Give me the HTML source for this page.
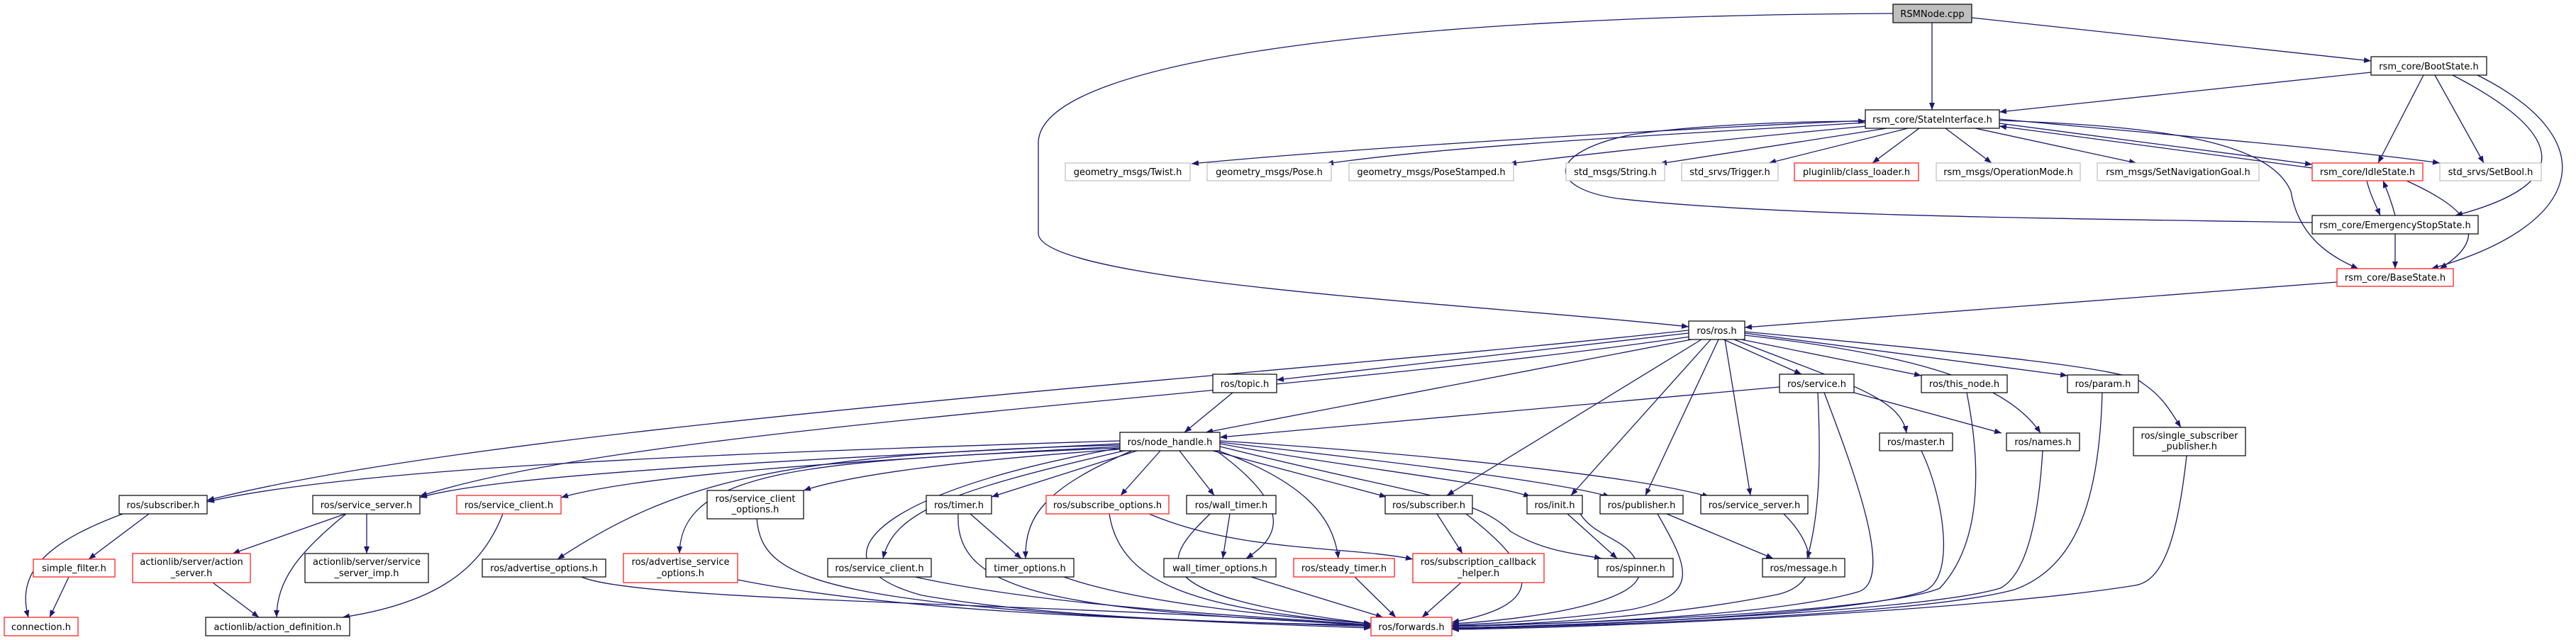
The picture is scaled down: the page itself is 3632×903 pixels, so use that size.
<!DOCTYPE html>
<html><head><meta charset="utf-8"><style>
html,body{margin:0;padding:0;background:#fff;}
svg{display:block;}
text{font-family:"DejaVu Sans","Liberation Sans",sans-serif;font-size:13px;fill:#000;text-anchor:middle;}
.e{fill:none;stroke:#191970;stroke-width:1.3;marker-end:url(#a);}
.b{fill:#fff;stroke:#000;stroke-width:1.2;}
.g{fill:#fff;stroke:#bfbfbf;stroke-width:1.2;}
.r{fill:#fff;stroke:#ff3333;stroke-width:1.4;}
.s{fill:#bfbfbf;stroke:#000;stroke-width:1.2;}
</style></head><body>
<svg width="3632" height="903" viewBox="0 0 3632 903" xmlns="http://www.w3.org/2000/svg">
<defs><marker id="a" markerUnits="userSpaceOnUse" markerWidth="11" markerHeight="8" refX="10" refY="4" orient="auto"><path d="M0,0 L10,4 L0,8 z" fill="#191970"/></marker></defs>
<g>
<path class="e" d="M2669,19 C2000,22 1470,80 1464,200 L1464,330 C1470,400 2100,430 2381,461"/>
<path class="e" d="M2724,32 L2724,155"/>
<path class="e" d="M2780,25 L3343,86"/>
<path class="e" d="M3343,102 L2819,158"/>
<path class="e" d="M3417,106 L3353,230"/>
<path class="e" d="M3433,106 L3502,230"/>
<path class="e" d="M3458,106 C3620,190 3630,260 3462,304"/>
<path class="e" d="M3493,106 C3680,200 3640,320 3428,379"/>
<path class="e" d="M2630,170 C2300,185 1900,210 1680,231"/>
<path class="e" d="M2630,173 C2350,190 2050,205 1870,231"/>
<path class="e" d="M2632,178 C2450,195 2300,210 2128,231"/>
<path class="e" d="M2660,181 L2340,231"/>
<path class="e" d="M2690,181 L2494,230"/>
<path class="e" d="M2706,181 L2640,230"/>
<path class="e" d="M2743,181 L2808,230"/>
<path class="e" d="M2785,181 L3012,230"/>
<path class="e" d="M2819,174 L3260,232"/>
<path class="e" d="M3260,237 L2819,178"/>
<path class="e" d="M2819,168 C3000,185 3300,210 3440,230"/>
<path class="e" d="M2819,170 C3050,178 3200,200 3230,270 C3240,330 3280,360 3325,379"/>
<path class="e" d="M3260,314 C2900,308 2500,305 2280,280 C2180,265 2180,215 2300,190 C2400,175 2550,171 2630,171"/>
<path class="e" d="M3337,255 C3342,275 3350,290 3356,304"/>
<path class="e" d="M3377,304 C3372,285 3366,270 3360,255"/>
<path class="e" d="M3393,255 C3470,290 3520,330 3440,379"/>
<path class="e" d="M3377,330 L3377,379"/>
<path class="e" d="M3295,398 L2460,462"/>
<path class="e" d="M2381,470 L1800,536"/>
<path class="e" d="M2385,479 L1700,610"/>
<path class="e" d="M2381,466 C1800,530 700,600 292,706"/>
<path class="e" d="M2383,475 C1800,560 900,600 592,700"/>
<path class="e" d="M2430,479 L2540,528"/>
<path class="e" d="M2399,479 L2040,699"/>
<path class="e" d="M2412,479 L2215,699"/>
<path class="e" d="M2423,479 L2320,699"/>
<path class="e" d="M2432,479 L2468,699"/>
<path class="e" d="M2445,479 C2600,540 2680,560 2688,611"/>
<path class="e" d="M2455,479 L2709,530"/>
<path class="e" d="M2460,473 C2700,500 2830,540 2877,611"/>
<path class="e" d="M2460,470 L2915,530"/>
<path class="e" d="M2460,468 C2800,500 3000,520 3020,540 C3050,560 3060,580 3075,603"/>
<path class="e" d="M2509,546 L1720,617"/>
<path class="e" d="M2614,554 L2822,611"/>
<path class="e" d="M2563,554 C2567,640 2567,720 2548,788"/>
<path class="e" d="M2572,554 C2620,680 2670,820 2620,835 C2500,870 2200,880 2047,884"/>
<path class="e" d="M1738,554 L1670,610"/>
<path class="e" d="M2709,636 C2740,700 2760,820 2710,835 C2600,870 2200,883 2047,886"/>
<path class="e" d="M2773,554 C2790,640 2800,760 2735,830 C2650,865 2200,880 2047,884"/>
<path class="e" d="M2880,636 C2875,720 2860,810 2820,830 C2700,865 2200,883 2047,886"/>
<path class="e" d="M2964,554 C2960,700 2930,800 2840,832 C2700,870 2200,884 2047,887"/>
<path class="e" d="M3083,643 C3070,760 3050,820 3010,826 C2800,860 2300,885 2047,888"/>
<path class="e" d="M2515,725 C2570,780 2560,830 2500,840 C2350,870 2150,882 2047,883"/>
<path class="e" d="M2350,725 L2500,788"/>
<path class="e" d="M2337,725 C2380,800 2400,840 2300,860 C2200,875 2100,880 2047,882"/>
<path class="e" d="M2210,725 L2280,788"/>
<path class="e" d="M2228,725 C2250,760 2300,760 2310,800 C2330,850 2150,875 2047,880"/>
<path class="e" d="M2026,725 L2062,781"/>
<path class="e" d="M2067,725 C2150,790 2200,850 2047,878"/>
<path class="e" d="M1620,725 C1750,780 1900,770 1992,789"/>
<path class="e" d="M1564,725 C1580,830 1700,860 1933,880"/>
<path class="e" d="M1734,725 L1724,788"/>
<path class="e" d="M1706,725 C1640,790 1600,840 1933,880"/>
<path class="e" d="M1764,814 L1950,871"/>
<path class="e" d="M1910,814 L1968,871"/>
<path class="e" d="M2060,822 L2005,871"/>
<path class="e" d="M1368,725 L1440,788"/>
<path class="e" d="M1351,725 C1345,840 1500,860 1933,882"/>
<path class="e" d="M1500,814 C1600,850 1800,870 1933,880"/>
<path class="e" d="M1290,814 C1500,860 1800,870 1933,882"/>
<path class="e" d="M820,814 C900,850 1500,850 1933,883"/>
<path class="e" d="M1040,818 C1300,870 1700,875 1933,884"/>
<path class="e" d="M1067,732 C1075,820 1150,860 1933,886"/>
<path class="e" d="M1579,622 C1000,640 500,660 292,708"/>
<path class="e" d="M1579,626 C1100,650 700,670 592,702"/>
<path class="e" d="M1579,630 C1200,650 900,670 791,702"/>
<path class="e" d="M1579,634 C1350,650 1200,670 1133,692"/>
<path class="e" d="M1579,628 C1100,640 950,680 786,789"/>
<path class="e" d="M1579,632 C1150,650 960,660 958,781"/>
<path class="e" d="M1585,636 C1350,690 1260,720 1245,788"/>
<path class="e" d="M1603,636 L1398,701"/>
<path class="e" d="M1596,636 C1470,690 1445,730 1446,788"/>
<path class="e" d="M1636,636 L1580,699"/>
<path class="e" d="M1663,636 L1712,699"/>
<path class="e" d="M1715,636 C1830,720 1800,760 1757,788"/>
<path class="e" d="M1718,636 C1840,680 1880,730 1887,788"/>
<path class="e" d="M1710,636 L1955,701"/>
<path class="e" d="M1720,626 C1900,660 2100,680 2158,701"/>
<path class="e" d="M1720,624 C1950,650 2200,680 2270,701"/>
<path class="e" d="M1720,622 C2000,640 2300,670 2410,701"/>
<path class="e" d="M1720,630 C2000,700 2080,700 2130,750 C2180,780 2230,782 2258,788"/>
<path class="e" d="M1579,632 C1200,700 1150,800 1300,840 C1500,875 1800,880 1933,882"/>
<path class="e" d="M210,725 L125,789"/>
<path class="e" d="M173,725 C80,760 20,800 40,871"/>
<path class="e" d="M97,814 L70,871"/>
<path class="e" d="M487,725 L328,781"/>
<path class="e" d="M488,725 C420,780 390,820 390,871"/>
<path class="e" d="M517,725 L517,781"/>
<path class="e" d="M300,822 L365,871"/>
<path class="e" d="M709,725 C680,800 620,850 483,871"/>
</g>
<g>
<rect class="s" x="2669" y="6" width="111" height="26"/><text x="2724.5" y="24">RSMNode.cpp</text>
<rect class="b" x="3343" y="80" width="163" height="26"/><text x="3424.5" y="98">rsm_core/BootState.h</text>
<rect class="b" x="2630" y="155" width="189" height="26"/><text x="2724.5" y="173">rsm_core/StateInterface.h</text>
<rect class="g" x="1502" y="230" width="176" height="25"/><text x="1590" y="247">geometry_msgs/Twist.h</text>
<rect class="g" x="1702" y="230" width="175" height="25"/><text x="1789.5" y="247">geometry_msgs/Pose.h</text>
<rect class="g" x="1902" y="230" width="232" height="25"/><text x="2018" y="247">geometry_msgs/PoseStamped.h</text>
<rect class="g" x="2208" y="230" width="139" height="25"/><text x="2277.5" y="247">std_msgs/String.h</text>
<rect class="g" x="2371" y="230" width="136" height="25"/><text x="2439" y="247">std_srvs/Trigger.h</text>
<rect class="r" x="2530" y="230" width="175" height="25"/><text x="2617.5" y="247">pluginlib/class_loader.h</text>
<rect class="g" x="2730" y="230" width="203" height="25"/><text x="2831.5" y="247">rsm_msgs/OperationMode.h</text>
<rect class="g" x="2957" y="230" width="228" height="25"/><text x="3071" y="247">rsm_msgs/SetNavigationGoal.h</text>
<rect class="r" x="3260" y="230" width="156" height="25"/><text x="3338" y="247">rsm_core/IdleState.h</text>
<rect class="g" x="3440" y="230" width="143" height="25"/><text x="3511.5" y="247">std_srvs/SetBool.h</text>
<rect class="b" x="3260" y="304" width="234" height="26"/><text x="3377" y="322">rsm_core/EmergencyStopState.h</text>
<rect class="r" x="3295" y="379" width="164" height="25"/><text x="3377" y="396">rsm_core/BaseState.h</text>
<rect class="b" x="2381" y="453" width="79" height="26"/><text x="2420.5" y="471">ros/ros.h</text>
<rect class="b" x="1710" y="528" width="90" height="26"/><text x="1755" y="546">ros/topic.h</text>
<rect class="b" x="2509" y="528" width="105" height="26"/><text x="2561.5" y="546">ros/service.h</text>
<rect class="b" x="2709" y="529" width="121" height="25"/><text x="2769.5" y="546">ros/this_node.h</text>
<rect class="b" x="2915" y="529" width="100" height="25"/><text x="2965" y="546">ros/param.h</text>
<rect class="b" x="1579" y="610" width="141" height="26"/><text x="1649.5" y="628">ros/node_handle.h</text>
<rect class="b" x="2650" y="611" width="103" height="25"/><text x="2701.5" y="628">ros/master.h</text>
<rect class="b" x="2829" y="611" width="103" height="25"/><text x="2880.5" y="628">ros/names.h</text>
<rect class="b" x="3008" y="603" width="158" height="40"/><text x="3087" y="619">ros/single_subscriber</text><text x="3087" y="634">_publisher.h</text>
<rect class="b" x="168" y="699" width="124" height="26"/><text x="230" y="717">ros/subscriber.h</text>
<rect class="b" x="441" y="699" width="151" height="26"/><text x="516.5" y="717">ros/service_server.h</text>
<rect class="r" x="644" y="699" width="147" height="26"/><text x="717.5" y="717">ros/service_client.h</text>
<rect class="b" x="997" y="692" width="136" height="40"/><text x="1065" y="708">ros/service_client</text><text x="1065" y="723">_options.h</text>
<rect class="b" x="1306" y="699" width="92" height="26"/><text x="1352" y="717">ros/timer.h</text>
<rect class="r" x="1475" y="699" width="173" height="26"/><text x="1561.5" y="717">ros/subscribe_options.h</text>
<rect class="b" x="1673" y="699" width="126" height="26"/><text x="1736" y="717">ros/wall_timer.h</text>
<rect class="b" x="1953" y="699" width="123" height="26"/><text x="2014.5" y="717">ros/subscriber.h</text>
<rect class="b" x="2153" y="699" width="78" height="26"/><text x="2192" y="717">ros/init.h</text>
<rect class="b" x="2256" y="699" width="117" height="26"/><text x="2314.5" y="717">ros/publisher.h</text>
<rect class="b" x="2398" y="699" width="151" height="26"/><text x="2473.5" y="717">ros/service_server.h</text>
<rect class="r" x="47" y="789" width="115" height="25"/><text x="104.5" y="806">simple_filter.h</text>
<rect class="r" x="187" y="781" width="166" height="41"/><text x="270" y="797">actionlib/server/action</text><text x="270" y="813">_server.h</text>
<rect class="b" x="430" y="781" width="174" height="41"/><text x="517" y="797">actionlib/server/service</text><text x="517" y="813">_server_imp.h</text>
<rect class="b" x="680" y="789" width="174" height="25"/><text x="767" y="806">ros/advertise_options.h</text>
<rect class="r" x="879" y="781" width="161" height="41"/><text x="959.5" y="797">ros/advertise_service</text><text x="959.5" y="813">_options.h</text>
<rect class="b" x="1167" y="788" width="146" height="26"/><text x="1240" y="806">ros/service_client.h</text>
<rect class="b" x="1390" y="788" width="124" height="26"/><text x="1452" y="806">timer_options.h</text>
<rect class="b" x="1641" y="788" width="158" height="26"/><text x="1720" y="806">wall_timer_options.h</text>
<rect class="r" x="1824" y="788" width="142" height="26"/><text x="1895" y="806">ros/steady_timer.h</text>
<rect class="r" x="1992" y="781" width="185" height="41"/><text x="2084.5" y="797">ros/subscription_callback</text><text x="2084.5" y="813">_helper.h</text>
<rect class="b" x="2253" y="788" width="106" height="26"/><text x="2306" y="806">ros/spinner.h</text>
<rect class="b" x="2485" y="788" width="116" height="26"/><text x="2543" y="806">ros/message.h</text>
<rect class="r" x="6" y="871" width="104" height="26"/><text x="58" y="889">connection.h</text>
<rect class="b" x="290" y="871" width="203" height="26"/><text x="391.5" y="889">actionlib/action_definition.h</text>
<rect class="r" x="1933" y="871" width="114" height="26"/><text x="1990" y="889">ros/forwards.h</text>
</g>
</svg>
</body></html>
